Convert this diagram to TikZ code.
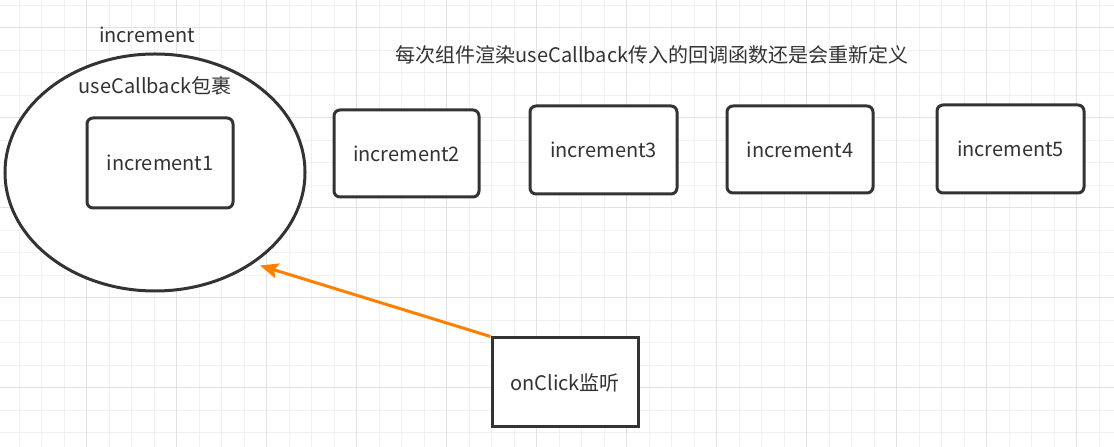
\documentclass[tikz,border=0pt]{standalone}
\usepackage{fontspec}
\setmainfont{Noto Sans CJK SC}
\usetikzlibrary{shapes.geometric,arrows.meta}
\definecolor{gridminor}{HTML}{F0F0F0}
\definecolor{gridmajor}{HTML}{E2E2E2}
\definecolor{ink}{HTML}{333333}
\definecolor{arrorange}{HTML}{FF8000}
\begin{document}
\begin{tikzpicture}[x=1bp,y=-1bp,
  txt/.style={text=ink, inner sep=0pt, font=\fontsize{20bp}{24bp}\selectfont},
  box/.style={txt, draw=ink, line width=3bp, rounded corners=6bp, fill=white,
    minimum width=146bp, minimum height=88bp},
  plainbox/.style={box, rounded corners=0pt},
  oval/.style={ellipse, draw=ink, line width=3bp, fill=white, inner sep=0pt,
    minimum width=300bp, minimum height=237bp},
  link/.style={draw=arrorange, line width=3bp,
    -{Stealth[length=18bp, width=15bp, inset=3bp]}},
]
% background and grid
\fill[white] (0,0) rectangle (1114,447);
\useasboundingbox (0,0) rectangle (1114,447);
\foreach \x in {19.2,41.7,...,1114} {\draw[gridminor, line width=1bp] (\x,0) -- (\x,447);}
\foreach \y in {5.2,27.7,...,447} {\draw[gridminor, line width=1bp] (0,\y) -- (1114,\y);}
\foreach \x in {86.7,176.7,...,1114} {\draw[gridmajor, line width=1bp] (\x,0) -- (\x,447);}
\foreach \y in {27.7,117.7,...,447} {\draw[gridmajor, line width=1bp] (0,\y) -- (1114,\y);}

% ellipse and labels
\node[oval] (wrap) at (155,172.5) {};
\node[txt] (inclabel) at (147,35) {increment};
\node[txt] (uclabel) at (155,86) {useCallback包裹};
\node[txt] (title) at (652,55) {每次组件渲染useCallback传入的回调函数还是会重新定义};

% boxes
\node[box, minimum width=146bp, minimum height=90bp] (inc1) at (160,163) {increment1};
\node[box, minimum width=145bp, minimum height=87bp] (inc2) at (406.5,153.5) {increment2};
\node[box, minimum width=147bp, minimum height=88bp] (inc3) at (603.5,150) {increment3};
\node[box, minimum width=146bp, minimum height=87bp] (inc4) at (800,149.5) {increment4};
\node[box, minimum width=147bp, minimum height=88bp] (inc5) at (1010.5,149) {increment5};
\node[plainbox, minimum width=146bp, minimum height=89bp] (click) at (565,382.5) {onClick监听};

% connector
\coordinate (tip) at (260,265.5);
\draw[link] (click.north west) -- (tip);
\end{tikzpicture}
\end{document}
